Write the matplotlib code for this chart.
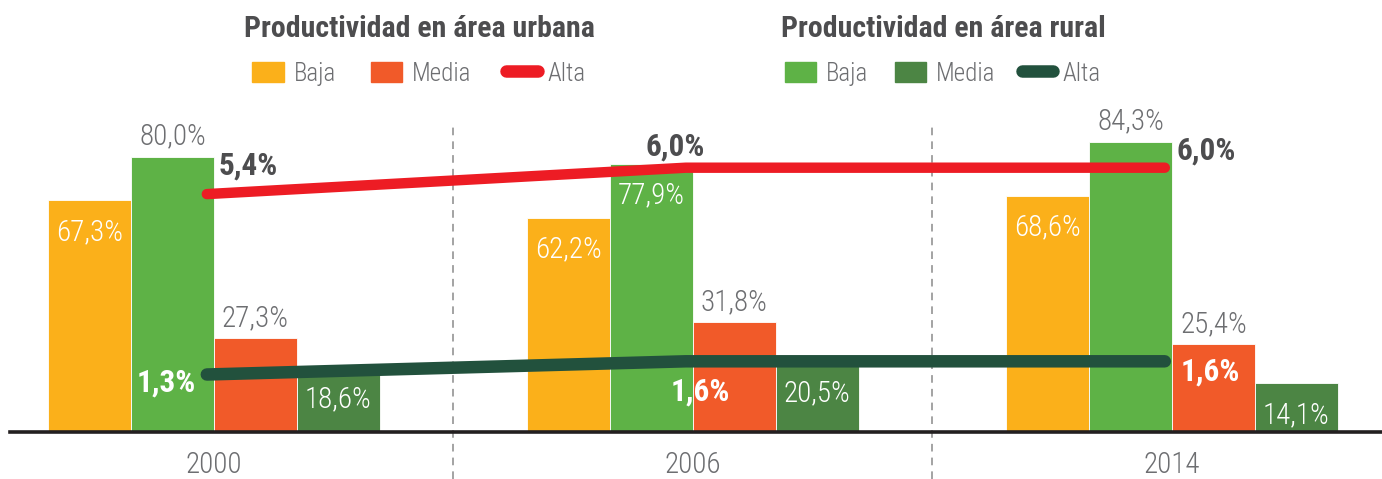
import matplotlib
matplotlib.use('Agg')
import matplotlib.pyplot as plt
from matplotlib.patches import Patch
from matplotlib.lines import Line2D

plt.rcParams['font.family'] = ['Roboto Condensed', 'Barlow Condensed', 'Archivo Narrow', 'DejaVu Sans']

years = ['2000', '2006', '2014']
urb_baja = [67.3, 62.2, 68.6]
rur_baja = [80.0, 77.9, 84.3]
urb_media = [27.3, 31.8, 25.4]
rur_media = [18.6, 20.5, 14.1]
urb_alta = [5.4, 6.0, 6.0]
rur_alta = [1.3, 1.6, 1.6]

c_urb_baja = '#FBB01A'
c_rur_baja = '#5EB246'
c_urb_media = '#F15A29'
c_rur_media = '#4C8544'
c_urb_alta = '#ED1C24'
c_rur_alta = '#22513D'
grey = '#6D6E71'
dark = '#4D4D4F'

W, H = 1382, 479
fig = plt.figure(figsize=(W / 100, H / 100), dpi=100)
base_y = 431.7
top_y = 100
ax = fig.add_axes([10 / W, (H - base_y) / H, (W - 10) / W, (base_y - top_y) / H])

x = [0, 1, 2]
w = 0.173
series = [
    (urb_baja, c_urb_baja, [True, True, True]),
    (rur_baja, c_rur_baja, [False, True, False]),
    (urb_media, c_urb_media, [False, False, False]),
    (rur_media, c_rur_media, [True, True, True]),
]
for k, (vals, col, inside) in enumerate(series):
    xs = [xi + (k - 1.5) * w for xi in x]
    ax.bar(xs, vals, width=w, color=col, edgecolor='white', linewidth=0.6, zorder=2)
    for xi, v, ins in zip(xs, vals, inside):
        lab = f'{v:.1f}%'.replace('.', ',')
        if ins:
            ax.annotate(lab, (xi, v), xytext=(0, -32), textcoords='offset pixels',
                        ha='center', va='center', color='white', fontsize=21,
                        fontweight='light', zorder=5)
        else:
            ax.annotate(lab, (xi, v), xytext=(0, 20), textcoords='offset pixels',
                        ha='center', va='center', color=grey, fontsize=21,
                        fontweight='light', zorder=5)

ax.set_xlim(-204 / 479, 2 + (W - 1172) / 479)
ax.set_ylim(0, (base_y - top_y) / 3.44)
ax.set_xticks(x)
ax.set_xticklabels(years, fontsize=21, color=grey, fontweight='light')
ax.tick_params(axis='x', length=0, pad=14)
ax.set_yticks([])
for s in ['top', 'right', 'left']:
    ax.spines[s].set_visible(False)
ax.spines['bottom'].set_linewidth(2.6)
ax.spines['bottom'].set_color('#231F20')
ax.spines['bottom'].set_zorder(6)

for sx in [0.5, 1.5]:
    ax.axvline(sx, ymin=-(H - base_y) / (base_y - top_y), ymax=(base_y - 127) / (base_y - top_y),
               color='#8A8A8A', lw=1.1, ls=(0, (5, 4)), clip_on=False, zorder=1)

ax2 = ax.twinx()
ax2.set_ylim(0, (base_y - top_y) / 44)
ax2.axis('off')
shift = -0.015
xl = [xi + shift for xi in x]
ax2.plot(xl, urb_alta, color=c_urb_alta, lw=7.5, solid_capstyle='round', zorder=4)
ax2.plot(xl, rur_alta, color=c_rur_alta, lw=9, solid_capstyle='round', zorder=4)

urb_off = [(12, 29, 'left'), (-11, 21, 'center'), (12, 17, 'left')]
rur_off = [(-11, -8, 'right'), (14, -30, 'center'), (16, -10, 'left')]
for xi, v, (dx, dy, ha) in zip(xl, urb_alta, urb_off):
    ax2.annotate(f'{v:.1f}%'.replace('.', ','), (xi, v), xytext=(dx, dy), textcoords='offset pixels',
                 ha=ha, va='center', color=dark, fontsize=22.5, fontweight='bold', zorder=6)
for xi, v, (dx, dy, ha) in zip(xl, rur_alta, rur_off):
    ax2.annotate(f'{v:.1f}%'.replace('.', ','), (xi, v), xytext=(dx, dy), textcoords='offset pixels',
                 ha=ha, va='center', color='white', fontsize=22.5, fontweight='bold', zorder=6)

def make_legend(cx, title, cols, colsp):
    handles = [Patch(color=cols[0]), Patch(color=cols[1]),
               Line2D([], [], color=cols[2], lw=9, solid_capstyle='round')]
    leg = fig.legend(handles, ['Baja', 'Media', 'Alta'], ncol=3, loc='upper center',
                     bbox_to_anchor=(cx / W, 1 - 10 / H), frameon=False,
                     prop={'size': 18, 'weight': 'light'},
                     handlelength=1.25, handleheight=0.85, handletextpad=0.4,
                     columnspacing=colsp, borderpad=0.2, borderaxespad=0, labelspacing=0.75,
                     title=title, title_fontproperties={'weight': 'bold', 'size': 21.5})
    leg.get_title().set_color(dark)
    for t in leg.get_texts():
        t.set_color(grey)
    return leg

make_legend(419, 'Productividad en área urbana', [c_urb_baja, c_urb_media, c_urb_alta], 1.4)
make_legend(943, 'Productividad en área rural', [c_rur_baja, c_rur_media, c_rur_alta], 1.05)

fig.savefig('out.png', dpi=100)
